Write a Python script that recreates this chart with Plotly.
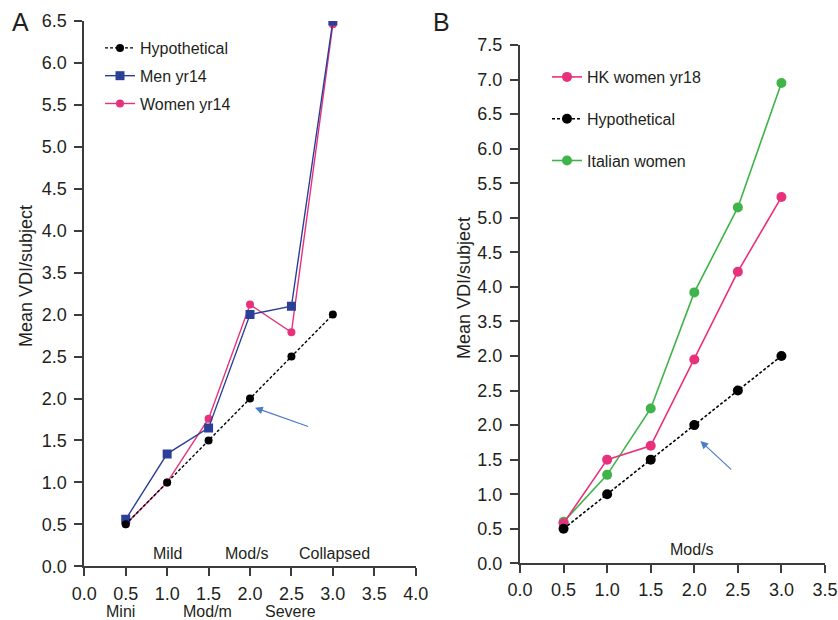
import plotly.graph_objects as go

# ---- data: panel A (x = grade score, y = mean VDI per subject) ----
grades = [0.5, 1.0, 1.5, 2.0, 2.5, 3.0]
hypo_a = [0.5, 1.0, 1.5, 2.0, 2.5, 3.0]
men_yr14 = [0.56, 1.34, 1.65, 3.0, 3.1, 6.5]
women_yr14 = [0.5, 1.0, 1.76, 3.12, 2.79, 6.46]

# ---- data: panel B ----
hk_women_yr18 = [0.58, 1.5, 1.7, 2.95, 4.22, 5.3]
hypo_b = [0.5, 1.0, 1.5, 2.0, 2.5, 3.0]
italian_women = [0.6, 1.28, 2.24, 3.92, 5.15, 6.95]

# ---- tick labels as printed on the axes ----
ytick_vals_a = [0.0, 0.5, 1.0, 1.5, 2.0, 2.5, 3.0, 3.5, 4.0, 4.5, 5.0, 5.5, 6.0, 6.5]
ytick_text_a = ["0.0", "0.5", "1.0", "1.5", "2.0", "2.5", "2.0", "3.5", "4.0",
                "4.5", "5.0", "5.5", "6.0", "6.5"]
ytick_vals_b = ytick_vals_a + [7.0, 7.5]
ytick_text_b = ytick_text_a + ["7.0", "7.5"]
xtick_vals_a = [0.0, 0.5, 1.0, 1.5, 2.0, 2.5, 3.0, 3.5, 4.0]
xtick_text_a = ["0.0", "0.5", "1.0", "1.5", "2.0", "2.5", "3.0", "3.5", "4.0"]
xtick_vals_b = xtick_vals_a[:-1]
xtick_text_b = xtick_text_a[:-1]

# grade names written along panel A's x axis
grade_top_a = [("Mild", 1.0), ("Mod/s", 1.96), ("Collapsed", 3.02)]
grade_bottom_a = [("Mini", 0.44), ("Mod/m", 1.49), ("Severe", 2.49)]

W, H = 838, 620
FONT = "Liberation Sans, Arial, Helvetica, sans-serif"
TXT = "#231f20"
AX = "#3c3c3c"
BLACK = "#000000"
BLUE = "#2b3f98"
PINK = "#e8317c"
GREEN = "#3fb44a"
ARROW = "#4a7cc9"


def px_x(p):
    return p / W


def px_y(p):
    return 1 - p / H


fig = go.Figure()

# panel A traces (hypothetical drawn last so its markers sit on top)
fig.add_trace(go.Scatter(x=grades, y=women_yr14, name="Women yr14", mode="lines+markers",
                         line=dict(color=PINK, width=1.4),
                         marker=dict(color=PINK, size=8, symbol="circle"),
                         xaxis="x", yaxis="y", legend="legend", legendrank=3,
                         legendgroup="w14"))
fig.add_trace(go.Scatter(x=grades, y=men_yr14, name="Men yr14", mode="lines+markers",
                         line=dict(color=BLUE, width=1.4),
                         marker=dict(color=BLUE, size=9, symbol="square"),
                         xaxis="x", yaxis="y", legend="legend", legendrank=2,
                         legendgroup="m14"))
fig.add_trace(go.Scatter(x=grades, y=hypo_a, name="Hypothetical", mode="lines+markers",
                         line=dict(color=BLACK, width=1.4, dash="3px,2px"),
                         marker=dict(color=BLACK, size=8),
                         xaxis="x", yaxis="y", legend="legend", legendrank=1,
                         legendgroup="ha"))

# panel B traces
fig.add_trace(go.Scatter(x=grades, y=italian_women, name="Italian women", mode="lines+markers",
                         line=dict(color=GREEN, width=1.6),
                         marker=dict(color=GREEN, size=10),
                         xaxis="x2", yaxis="y2", legend="legend2", legendrank=3,
                         legendgroup="it"))
fig.add_trace(go.Scatter(x=grades, y=hk_women_yr18, name="HK women yr18", mode="lines+markers",
                         line=dict(color=PINK, width=1.6),
                         marker=dict(color=PINK, size=10),
                         xaxis="x2", yaxis="y2", legend="legend2", legendrank=1,
                         legendgroup="hk"))
fig.add_trace(go.Scatter(x=grades, y=hypo_b, name="Hypothetical", mode="lines+markers",
                         line=dict(color=BLACK, width=1.6, dash="3px,2px"),
                         marker=dict(color=BLACK, size=10),
                         xaxis="x2", yaxis="y2", legend="legend2", legendrank=2,
                         legendgroup="hb"))

axis_common = dict(showline=True, linecolor=AX, linewidth=2, ticks="outside",
                   ticklen=8, tickwidth=1.5, tickcolor=AX, showgrid=False,
                   zeroline=False, tickfont=dict(family=FONT, size=18, color=TXT),
                   tickmode="array", fixedrange=True, automargin=False)

fig.update_layout(
    width=W, height=H,
    margin=dict(l=0, r=0, t=0, b=0, autoexpand=False),
    paper_bgcolor="white", plot_bgcolor="white",
    font=dict(family=FONT, color=TXT),
    xaxis=dict(domain=[px_x(84.3), px_x(415.7)], range=[0, 4],
               tickvals=xtick_vals_a, ticktext=xtick_text_a, anchor="y",
               ticklabelstandoff=2, **axis_common),
    yaxis=dict(domain=[px_y(566.3), px_y(21)], range=[0, 6.5],
               tickvals=ytick_vals_a, ticktext=ytick_text_a, anchor="x",
               ticklabelstandoff=4, **axis_common),
    xaxis2=dict(domain=[px_x(520), px_x(825)], range=[0, 3.5],
                tickvals=xtick_vals_b, ticktext=xtick_text_b, anchor="y2",
                ticklabelstandoff=1, **axis_common),
    yaxis2=dict(domain=[px_y(563.3), px_y(45)], range=[0, 7.5],
                tickvals=ytick_vals_b, ticktext=ytick_text_b, anchor="x2",
                ticklabelstandoff=4, **axis_common),
    legend=dict(x=px_x(100), y=px_y(31), xanchor="left", yanchor="top",
                bgcolor="rgba(0,0,0,0)", font=dict(family=FONT, size=16, color=TXT),
                tracegroupgap=4, itemwidth=30),
    legend2=dict(x=px_x(547), y=px_y(60), xanchor="left", yanchor="top",
                 bgcolor="rgba(0,0,0,0)", font=dict(family=FONT, size=16, color=TXT),
                 tracegroupgap=18, itemwidth=30),
    showlegend=True,
)

annotations = []


def label(text, x, y, xref="paper", yref="paper", size=16, angle=0):
    annotations.append(dict(text=text, x=x, y=y, xref=xref, yref=yref, showarrow=False,
                            xanchor="center", yanchor="middle", textangle=angle,
                            font=dict(family=FONT, size=size, color=TXT)))


# panel letters
label("A", px_x(20), px_y(22), size=25)
label("B", px_x(442), px_y(22), size=25)
# y axis titles
label("Mean VDI/subject", px_x(26), px_y(276), size=18, angle=-90)
label("Mean VDI/subject", px_x(464), px_y(288), size=18, angle=-90)
# grade names
for text, gx in grade_top_a:
    label(text, gx, px_y(553), xref="x")
for text, gx in grade_bottom_a:
    label(text, gx, px_y(611), xref="x")
label("Mod/s", 1.97, px_y(549), xref="x2")

# arrows pointing at the hypothetical line
annotations.append(dict(x=2.06, y=1.89, ax=2.72, ay=1.66, xref="x", yref="y",
                        axref="x", ayref="y", text="", showarrow=True,
                        arrowhead=2, arrowsize=1.3, arrowwidth=1.2, arrowcolor=ARROW))
annotations.append(dict(x=2.07, y=1.77, ax=2.44, ay=1.34, xref="x2", yref="y2",
                        axref="x2", ayref="y2", text="", showarrow=True,
                        arrowhead=2, arrowsize=1.3, arrowwidth=1.2, arrowcolor=ARROW))

fig.update_layout(annotations=annotations)

fig.write_html("out.html")
